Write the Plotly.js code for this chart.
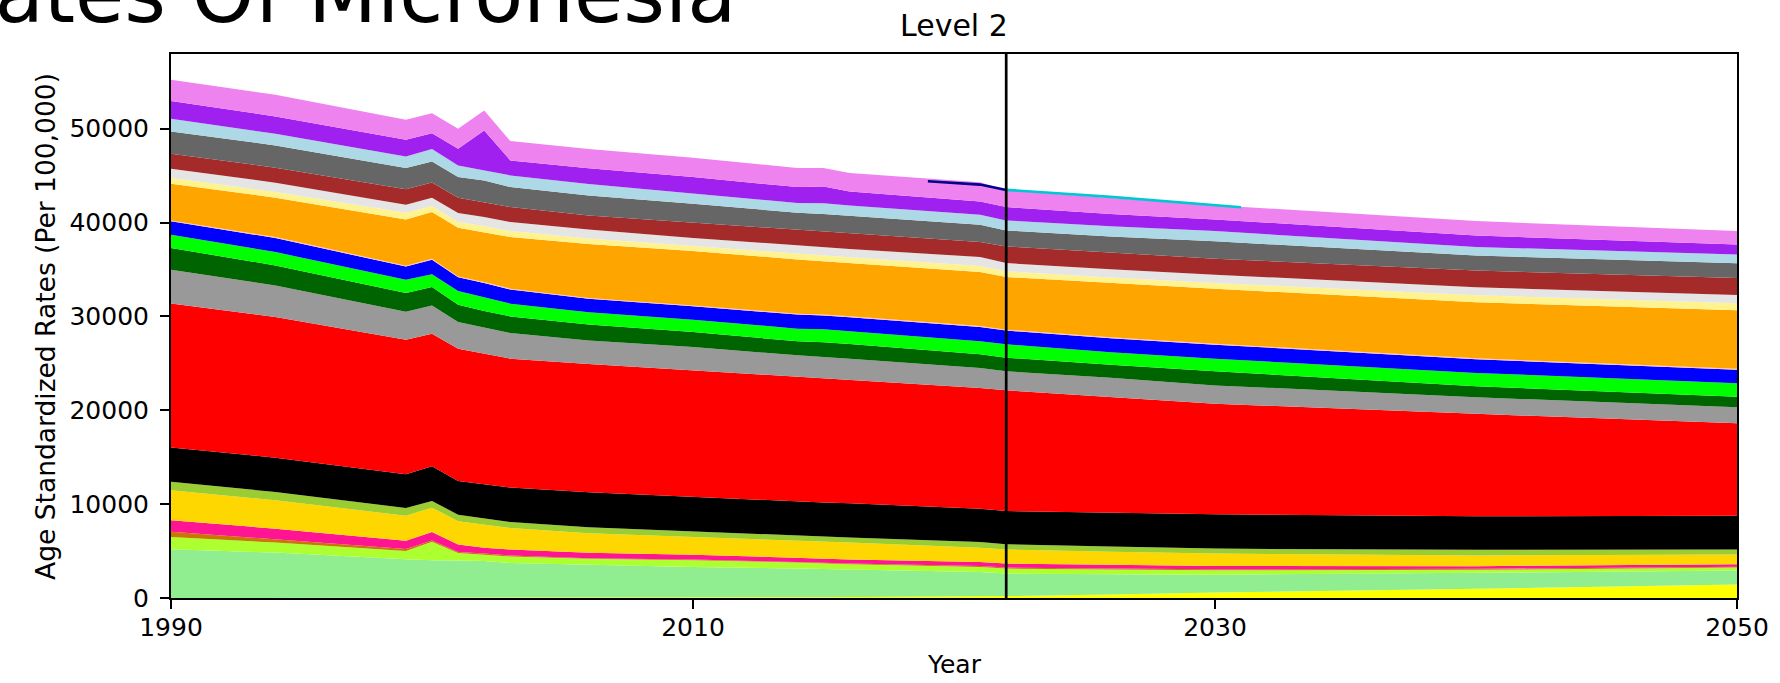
<!DOCTYPE html>
<html>
<head>
<meta charset="utf-8">
<script src="https://cdn.plot.ly/plotly-3.0.1.min.js"></script>
<style>
  html, body { margin: 0; padding: 0; background: #ffffff; }
  #chart { width: 1780px; height: 683px; }
</style>
</head>
<body>
<div id="chart"></div>
<script>
// ---- data (stack order bottom -> top) ----
const years = [1990, 1994, 1999, 2000, 2001, 2002, 2003, 2006, 2010, 2014, 2015, 2016, 2021, 2022, 2026, 2030, 2040, 2050];

const yellowSeries      = [0, 0, 0, 0, 0, 0, 0, 20, 50, 80, 90, 100, 170, 200, 370, 575, 980, 1440];
const lightGreenSeries  = [5190, 4835, 4120, 4015, 4000, 3940, 3730, 3515, 3250, 3050, 2980, 2935, 2600, 2400, 2165, 1915, 1700, 1490];
const greenYellowSeries = [1310, 1065, 885, 1985, 790, 680, 680, 640, 715, 640, 605, 565, 530, 530, 500, 460, 320, 320];
const ochreSeries       = [570, 350, 215, 120, 110, 110, 105, 65, 75, 65, 75, 75, 110, 110, 105, 105, 110, 70];
const deepPinkSeries    = [1205, 1140, 890, 910, 790, 635, 640, 570, 530, 465, 425, 425, 425, 425, 395, 355, 280, 280];
const goldSeries        = [3195, 3010, 2665, 2595, 2480, 2450, 2300, 2090, 1880, 1845, 1840, 1810, 1530, 1490, 1385, 1320, 1135, 1030];
const yellowGreenSeries = [925, 890, 810, 705, 710, 640, 640, 640, 600, 455, 505, 530, 600, 565, 565, 530, 605, 535];
const blackSeries       = [3625, 3660, 3590, 3695, 3580, 3655, 3665, 3730, 3655, 3625, 3650, 3660, 3555, 3545, 3590, 3655, 3585, 3585];
const redSeries         = [15365, 14980, 14345, 14135, 14100, 13920, 13735, 13670, 13495, 13315, 13240, 13170, 12845, 12855, 12310, 11785, 10900, 9870];
const graySeries        = [3585, 3370, 2980, 3010, 2835, 2770, 2730, 2480, 2480, 2310, 2235, 2205, 2135, 2025, 2065, 1950, 1775, 1700];
const darkGreenSeries   = [2310, 2130, 1985, 1950, 1850, 1765, 1775, 1710, 1600, 1490, 1600, 1595, 1455, 1455, 1385, 1495, 1170, 1105];
const limeSeries        = [1420, 1420, 1425, 1355, 1455, 1425, 1355, 1310, 1320, 1350, 1385, 1345, 1385, 1420, 1345, 1350, 1420, 1455];
const blueSeries        = [1425, 1500, 1390, 1570, 1460, 1565, 1495, 1430, 1420, 1500, 1460, 1495, 1530, 1465, 1495, 1495, 1460, 1430];
const pinkSeries        = [100, 100, 100, 100, 100, 100, 100, 100, 100, 100, 100, 100, 100, 100, 100, 100, 100, 100];
const orangeSeries      = [3905, 4190, 4930, 4965, 5185, 5325, 5500, 5750, 5785, 5780, 5680, 5650, 5750, 5605, 5755, 5860, 5960, 6240];
const khakiSeries       = [640, 600, 715, 640, 600, 640, 635, 570, 535, 610, 605, 635, 640, 605, 600, 600, 750, 750];
const lightGraySeries   = [960, 1000, 850, 890, 955, 960, 960, 955, 850, 880, 885, 895, 960, 885, 890, 890, 850, 890];
const brownSeries       = [1600, 1595, 1635, 1630, 1640, 1595, 1595, 1490, 1640, 1675, 1705, 1660, 1595, 1775, 1745, 1705, 1780, 1810];
const dimGraySeries     = [2370, 2375, 2270, 2240, 2200, 2310, 2130, 2130, 2020, 1810, 1850, 1885, 1850, 1705, 1735, 1845, 1595, 1560];
const lightBlueSeries   = [1355, 1250, 1240, 1310, 1240, 1065, 1250, 1245, 1130, 1025, 1135, 1065, 1065, 1065, 1100, 1095, 925, 920];
const purpleSeries      = [1875, 1840, 1780, 1700, 1780, 4260, 1595, 1665, 1710, 1700, 1775, 1490, 1420, 1415, 1315, 1245, 1210, 1070];
const violetSeries      = [2280, 2310, 2130, 2130, 2130, 2130, 2055, 2065, 2060, 2030, 1990, 1995, 2050, 1780, 1705, 1520, 1540, 1450];

const navyYears = [2019, 2020, 2021, 2022];
const navyValues = [44390, 44200, 44040, 43470];
const cyanYears = [2022, 2026, 2031];
const cyanValues = [43480, 42730, 41620];

const xTickVals = [1990, 2010, 2030, 2050];
const yTickVals = [0, 10000, 20000, 30000, 40000, 50000];
const markerYear = 2022;

// ---- styles ----
const layers = [
  [yellowSeries, '#ffff00'],
  [lightGreenSeries, '#90ee90'],
  [greenYellowSeries, '#adff2f'],
  [ochreSeries, '#c87800'],
  [deepPinkSeries, '#ff1493'],
  [goldSeries, '#ffd700'],
  [yellowGreenSeries, '#9acd32'],
  [blackSeries, '#000000'],
  [redSeries, '#ff0000'],
  [graySeries, '#999999'],
  [darkGreenSeries, '#006400'],
  [limeSeries, '#00ff00'],
  [blueSeries, '#0000ff'],
  [pinkSeries, '#ffc0cb'],
  [orangeSeries, '#ffa500'],
  [khakiSeries, '#fff38f'],
  [lightGraySeries, '#e5e5e5'],
  [brownSeries, '#a52a2a'],
  [dimGraySeries, '#666666'],
  [lightBlueSeries, '#add8e6'],
  [purpleSeries, '#a020f0'],
  [violetSeries, '#ee82ee']
];

const traces = layers.map(([vals, color], i) => ({
  x: years, y: vals, type: 'scatter', mode: 'lines',
  stackgroup: 'one', fillcolor: color,
  line: { width: 0, color: color },
  hoverinfo: 'skip', showlegend: false, name: 'layer ' + (i + 1)
}));

traces.push({
  x: navyYears, y: navyValues, type: 'scatter', mode: 'lines',
  line: { color: '#00008b', width: 2.6 }, showlegend: false, hoverinfo: 'skip'
});
traces.push({
  x: cyanYears, y: cyanValues, type: 'scatter', mode: 'lines',
  line: { color: '#00c8d2', width: 2.6 }, showlegend: false, hoverinfo: 'skip'
});

const FONT = 'DejaVu Sans';
const axisCommon = {
  ticks: 'outside', ticklen: 9, tickwidth: 2, tickcolor: '#000',
  showline: true, linewidth: 2, linecolor: '#000', mirror: true,
  showgrid: false, zeroline: false,
  tickfont: { family: FONT, size: 25, color: '#000' }
};

const layout = {
  width: 1780, height: 683,
  margin: { l: 171, r: 43, t: 54, b: 85, pad: 0 },
  paper_bgcolor: '#ffffff', plot_bgcolor: '#ffffff',
  showlegend: false,
  font: { family: FONT, size: 25, color: '#000' },
  xaxis: Object.assign({}, axisCommon, {
    range: [1990, 2050], tickvals: xTickVals, ticktext: xTickVals.map(String),
    ticklabelstandoff: -3
  }),
  yaxis: Object.assign({}, axisCommon, {
    range: [0, 57950], tickvals: yTickVals, ticktext: yTickVals.map(String),
    ticklabelstandoff: 6
  }),
  shapes: [{
    type: 'line', xref: 'x', yref: 'paper', x0: markerYear, x1: markerYear, y0: 0, y1: 1,
    line: { color: '#000', width: 2.7 }, layer: 'above'
  }],
  annotations: [
    { text: 'Federated States Of Micronesia', xref: 'paper', yref: 'paper',
      x: 0.3621, y: 1.1098, xanchor: 'right', yanchor: 'middle', showarrow: false,
      font: { family: FONT, size: 80, color: '#000' } },
    { text: 'Level 2', xref: 'paper', yref: 'paper',
      x: 0.5, y: 1.052, xanchor: 'center', yanchor: 'middle', showarrow: false,
      font: { family: FONT, size: 30, color: '#000' } },
    { text: 'Year', xref: 'paper', yref: 'paper',
      x: 0.5, y: -0.1231, xanchor: 'center', yanchor: 'middle', showarrow: false,
      font: { family: FONT, size: 25, color: '#000' } },
    { text: 'Age Standardized Rates (Per 100,000)', xref: 'paper', yref: 'paper',
      x: -0.0805, y: 0.5, xanchor: 'center', yanchor: 'middle', textangle: -90, showarrow: false,
      font: { family: FONT, size: 26.5, color: '#000' } }
  ]
};

Plotly.newPlot('chart', traces, layout, { displayModeBar: false, staticPlot: true });
</script>
</body>
</html>
